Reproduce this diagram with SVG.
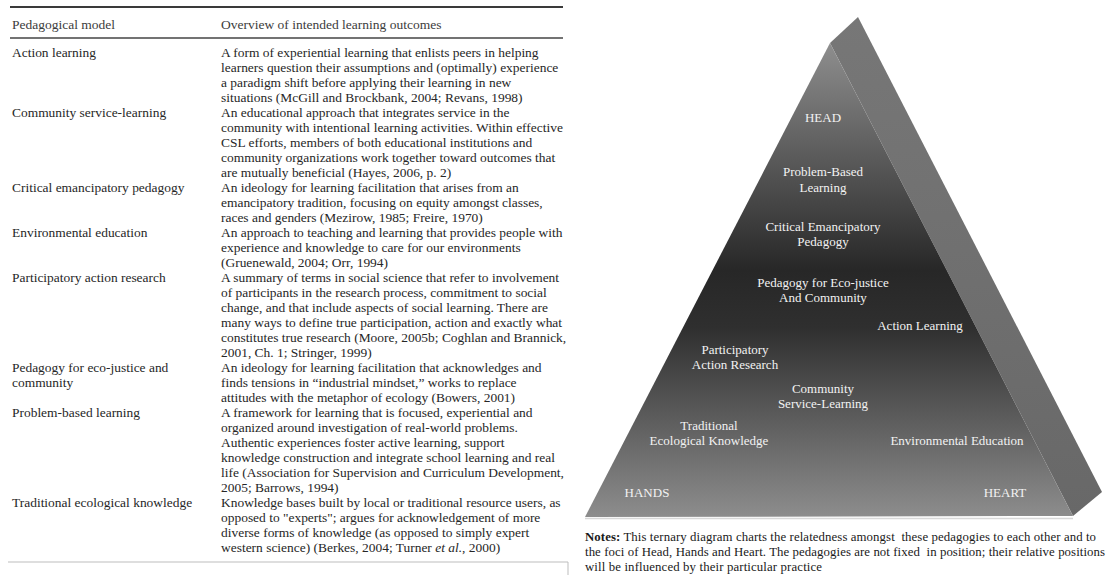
<svg xmlns="http://www.w3.org/2000/svg" width="1107" height="575" viewBox="0 0 1107 575">
<defs>
<style>
.t{font-family:"Liberation Serif","Times New Roman",serif;font-size:13.45px;fill:#262626}
.h{font-family:"Liberation Serif","Times New Roman",serif;font-size:13.5px;fill:#3c3c3c}
.p{font-family:"Liberation Serif","Times New Roman",serif;font-size:13px;fill:#f2f2f2;text-anchor:middle}
.n{font-family:"Liberation Serif","Times New Roman",serif;font-size:12.8px;fill:#1a1a1a}
</style>
<linearGradient id="front" gradientUnits="userSpaceOnUse" x1="0" y1="43" x2="0" y2="517">
<stop offset="0" stop-color="#8e8e8e"/>
<stop offset="0.16" stop-color="#6c6c6c"/>
<stop offset="0.48" stop-color="#272727"/>
<stop offset="0.6" stop-color="#2f2f2f"/>
<stop offset="1" stop-color="#8d8d8d"/>
</linearGradient>
<linearGradient id="side" gradientUnits="userSpaceOnUse" x1="0" y1="17" x2="0" y2="516">
<stop offset="0" stop-color="#777777"/>
<stop offset="1" stop-color="#686868"/>
</linearGradient>
</defs>
<rect width="1107" height="575" fill="#ffffff"/>

<g id="table">
<line x1="10" y1="7" x2="563" y2="7" stroke="#3a3a3a" stroke-width="2"/>
<text class="h" x="12" y="29">Pedagogical model</text>
<text class="h" x="221" y="29">Overview of intended learning outcomes</text>
<line x1="10" y1="38" x2="563" y2="38" stroke="#444" stroke-width="1.5"/>

<g id="row-action">
<text class="t" x="12" y="57">Action learning</text>
<text class="t" x="221" y="57">A form of experiential learning that enlists peers in helping</text>
<text class="t" x="221" y="72">learners question their assumptions and (optimally) experience</text>
<text class="t" x="221" y="87">a paradigm shift before applying their learning in new</text>
<text class="t" x="221" y="102">situations (McGill and Brockbank, 2004; Revans, 1998)</text>
</g>
<g id="row-csl">
<text class="t" x="12" y="117">Community service-learning</text>
<text class="t" x="221" y="117">An educational approach that integrates service in the</text>
<text class="t" x="221" y="132">community with intentional learning activities. Within effective</text>
<text class="t" x="221" y="147">CSL efforts, members of both educational institutions and</text>
<text class="t" x="221" y="162">community organizations work together toward outcomes that</text>
<text class="t" x="221" y="177">are mutually beneficial (Hayes, 2006, p. 2)</text>
</g>
<g id="row-critical">
<text class="t" x="12" y="192">Critical emancipatory pedagogy</text>
<text class="t" x="221" y="192">An ideology for learning facilitation that arises from an</text>
<text class="t" x="221" y="207">emancipatory tradition, focusing on equity amongst classes,</text>
<text class="t" x="221" y="222">races and genders (Mezirow, 1985; Freire, 1970)</text>
</g>
<g id="row-env">
<text class="t" x="12" y="237">Environmental education</text>
<text class="t" x="221" y="237">An approach to teaching and learning that provides people with</text>
<text class="t" x="221" y="252">experience and knowledge to care for our environments</text>
<text class="t" x="221" y="267">(Gruenewald, 2004; Orr, 1994)</text>
</g>
<g id="row-par">
<text class="t" x="12" y="282">Participatory action research</text>
<text class="t" x="221" y="282">A summary of terms in social science that refer to involvement</text>
<text class="t" x="221" y="297">of participants in the research process, commitment to social</text>
<text class="t" x="221" y="312">change, and that include aspects of social learning. There are</text>
<text class="t" x="221" y="327">many ways to define true participation, action and exactly what</text>
<text class="t" x="221" y="342">constitutes true research (Moore, 2005b; Coghlan and Brannick,</text>
<text class="t" x="221" y="357">2001, Ch. 1; Stringer, 1999)</text>
</g>
<g id="row-ecojustice">
<text class="t" x="12" y="372">Pedagogy for eco-justice and</text>
<text class="t" x="12" y="387">community</text>
<text class="t" x="221" y="372">An ideology for learning facilitation that acknowledges and</text>
<text class="t" x="221" y="387">finds tensions in “industrial mindset,” works to replace</text>
<text class="t" x="221" y="402">attitudes with the metaphor of ecology (Bowers, 2001)</text>
</g>
<g id="row-pbl">
<text class="t" x="12" y="417">Problem-based learning</text>
<text class="t" x="221" y="417">A framework for learning that is focused, experiential and</text>
<text class="t" x="221" y="432">organized around investigation of real-world problems.</text>
<text class="t" x="221" y="447">Authentic experiences foster active learning, support</text>
<text class="t" x="221" y="462">knowledge construction and integrate school learning and real</text>
<text class="t" x="221" y="477">life (Association for Supervision and Curriculum Development,</text>
<text class="t" x="221" y="492">2005; Barrows, 1994)</text>
</g>
<g id="row-tek">
<text class="t" x="12" y="507">Traditional ecological knowledge</text>
<text class="t" x="221" y="507">Knowledge bases built by local or traditional resource users, as</text>
<text class="t" x="221" y="522">opposed to "experts"; argues for acknowledgement of more</text>
<text class="t" x="221" y="537">diverse forms of knowledge (as opposed to simply expert</text>
<text class="t" x="221" y="552">western science) (Berkes, 2004; Turner <tspan font-style="italic">et al.</tspan>, 2000)</text>
</g>
<polyline points="8,562 568,562 568,575" fill="none" stroke="#bdbdbd" stroke-width="1"/>
</g>

<g id="pyramid">
<line x1="585" y1="518.5" x2="1073" y2="518.5" stroke="#d8d8d8" stroke-width="1.5"/>
<polygon id="side-face" points="830,43 858,17 1102,492 1073,516" fill="url(#side)"/>
<polygon id="front-face" points="830,43 1073,516 585,517" fill="url(#front)"/>
</g>

<g id="labels">
<g id="n-head"><text class="p" x="823" y="122">HEAD</text></g>
<g id="n-pbl"><text class="p" x="823" y="176">Problem-Based</text><text class="p" x="823" y="192">Learning</text></g>
<g id="n-cep"><text class="p" x="823" y="231">Critical Emancipatory</text><text class="p" x="823" y="246">Pedagogy</text></g>
<g id="n-pej"><text class="p" x="823" y="287">Pedagogy for Eco-justice</text><text class="p" x="823" y="302">And Community</text></g>
<g id="n-al"><text class="p" x="920" y="330">Action Learning</text></g>
<g id="n-par"><text class="p" x="735" y="354">Participatory</text><text class="p" x="735" y="369">Action Research</text></g>
<g id="n-csl"><text class="p" x="823" y="393">Community</text><text class="p" x="823" y="408">Service-Learning</text></g>
<g id="n-tek"><text class="p" x="709" y="430">Traditional</text><text class="p" x="709" y="445">Ecological Knowledge</text></g>
<g id="n-ee"><text class="p" x="957" y="445">Environmental Education</text></g>
<g id="n-hands"><text class="p" x="647" y="497">HANDS</text></g>
<g id="n-heart"><text class="p" x="1005" y="497">HEART</text></g>
</g>

<g id="connectors"/>

<g id="notes">
<text class="n" x="585" y="541" xml:space="preserve" textLength="511" lengthAdjust="spacing"><tspan font-weight="bold">Notes:</tspan> This ternary diagram charts the relatedness amongst  these pedagogies to each other and to</text>
<text class="n" x="585" y="556" xml:space="preserve" textLength="520" lengthAdjust="spacing">the foci of Head, Hands and Heart. The pedagogies are not fixed  in position; their relative positions</text>
<text class="n" x="585" y="571" textLength="237" lengthAdjust="spacing">will be influenced by their particular practice</text>
</g>
</svg>
